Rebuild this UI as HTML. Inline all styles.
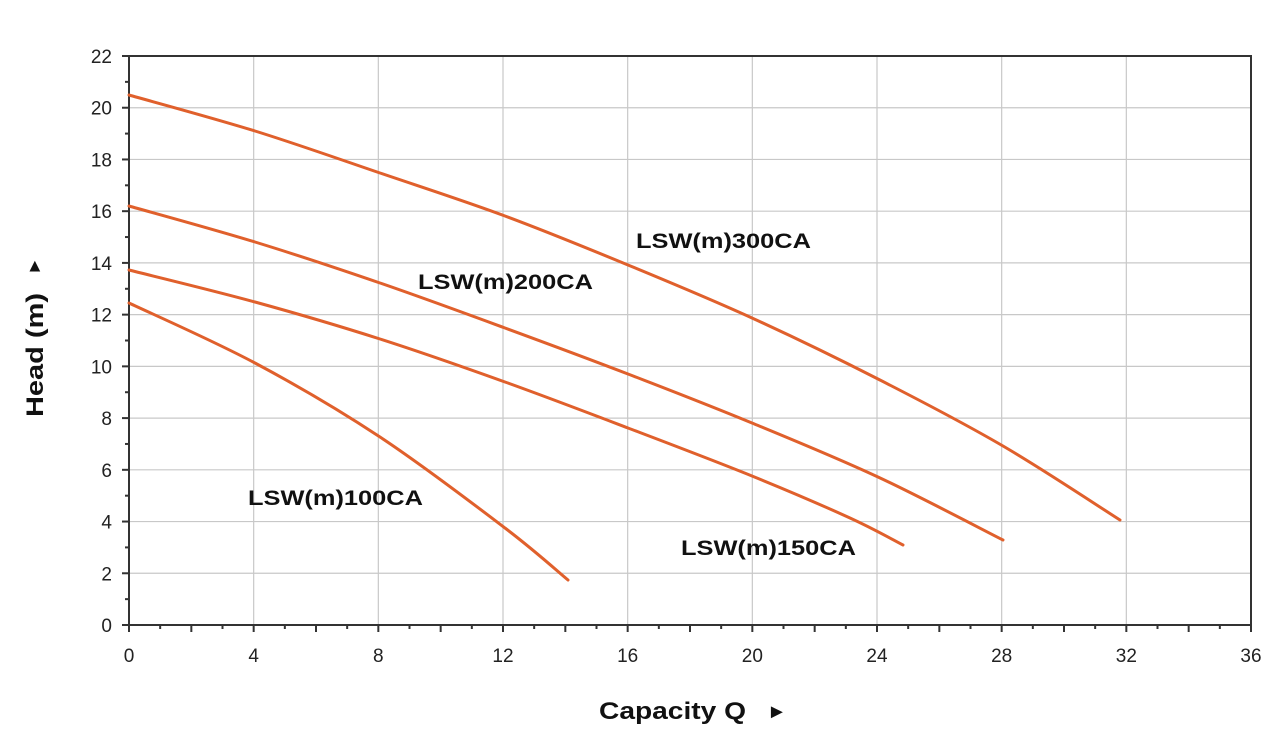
<!DOCTYPE html>
<html><head><meta charset="utf-8"><style>
html,body{margin:0;padding:0;background:#fff;width:1280px;height:739px;overflow:hidden}
text{font-family:"Liberation Sans",sans-serif}
</style></head><body>
<svg id="s" width="1280" height="739" xmlns="http://www.w3.org/2000/svg">
<g id="grid"></g>
<rect x="129" y="56" width="1122" height="569" fill="none" stroke="#333" stroke-width="2"/>
<g id="ticks" stroke="#333" stroke-width="2"></g>
<g id="labels" font-size="19" fill="#222"></g>
<g id="curves" fill="none" stroke="#e0602c" stroke-width="3" stroke-linecap="round" stroke-linejoin="round"></g>
<g font-size="21" font-weight="bold" fill="#111">
<text x="636" y="248" textLength="175" lengthAdjust="spacingAndGlyphs">LSW(m)300CA</text>
<text x="418" y="289" textLength="175" lengthAdjust="spacingAndGlyphs">LSW(m)200CA</text>
<text x="248" y="505" textLength="175" lengthAdjust="spacingAndGlyphs">LSW(m)100CA</text>
<text x="681" y="555" textLength="175" lengthAdjust="spacingAndGlyphs">LSW(m)150CA</text>
<text x="599" y="719" font-size="24" textLength="147" lengthAdjust="spacingAndGlyphs">Capacity Q</text>
<text x="767" y="718" font-size="20">►</text>
<text transform="translate(43,417) rotate(-90)" font-size="24" textLength="124" lengthAdjust="spacingAndGlyphs">Head (m)</text>
<text transform="translate(40,275) rotate(-90)" font-size="18">►</text>
</g>
</svg>
<script>
var ns="http://www.w3.org/2000/svg";
function el(p,t,a,tx){var e=document.createElementNS(ns,t);for(var k in a)e.setAttribute(k,a[k]);if(tx!=null)e.textContent=tx;document.getElementById(p).appendChild(e);}
function X(q){return 129+q*1122/36}function Y(h){return 625-h*569/22}
for(var q=4;q<36;q+=4)el("grid","line",{x1:X(q),x2:X(q),y1:56,y2:625,stroke:"#c8c8c8","stroke-width":1.2});
for(var h=2;h<22;h+=2)el("grid","line",{x1:129,x2:1251,y1:Y(h),y2:Y(h),stroke:"#c8c8c8","stroke-width":1.2});
for(var q=0;q<=36;q++){var L=q%2==0?7:4;el("ticks","line",{x1:X(q),x2:X(q),y1:625,y2:625+L});}
for(var h=0;h<=22;h++){var L=h%2==0?7:4;el("ticks","line",{x1:129-L,x2:129,y1:Y(h),y2:Y(h)});}
for(var q=0;q<=36;q+=4)el("labels","text",{x:X(q),y:662,"text-anchor":"middle"},q);
for(var h=0;h<=22;h+=2)el("labels","text",{x:112,y:Y(h)+7,"text-anchor":"end"},h);
function cr(p){var d="M"+p[0][0]+","+p[0][1];for(var i=0;i<p.length-1;i++){var a=p[i-1]||p[i],b=p[i],c=p[i+1],e=p[i+2]||c;
d+=" C"+(b[0]+(c[0]-a[0])/6)+","+(b[1]+(c[1]-a[1])/6)+" "+(c[0]-(e[0]-b[0])/6)+","+(c[1]-(e[1]-b[1])/6)+" "+c[0]+","+c[1];}return d;}
var C=[
[[129,95],[255,131],[380,173],[505,216],[628,265],[752,318],[878,379],[1003,446],[1120,520]],
[[129,206],[255,242],[380,283],[505,328],[628,374],[752,423],[878,477],[1003,540]],
[[129,270],[255,302],[380,339],[505,382],[628,428],[752,476],[850,518],[903,545]],
[[129,303],[255,363],[380,437],[505,528],[568,580]]];
C.forEach(function(p){el("curves","path",{d:cr(p)});});
</script>
</body></html>
